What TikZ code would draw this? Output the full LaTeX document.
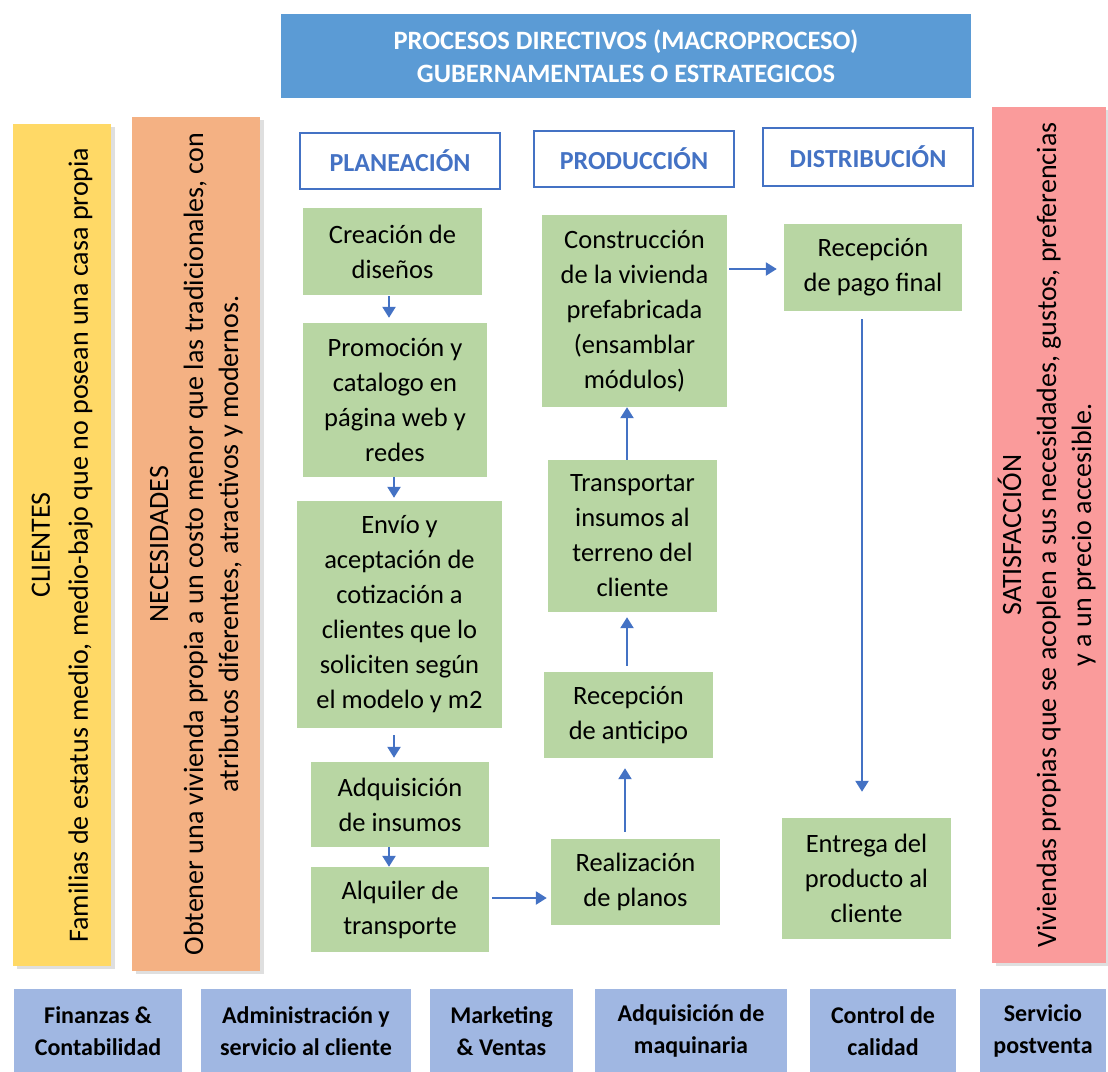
\documentclass[tikz,border=0pt]{standalone}
\usepackage{fontspec}
\setmainfont{Carlito}
\usepackage{graphicx}
\usetikzlibrary{arrows.meta,shadows}
\definecolor{banner}{HTML}{5B9BD5}
\definecolor{azul}{HTML}{4472C4}
\definecolor{verde}{RGB}{184,214,163}
\definecolor{amarillo}{HTML}{FFD966}
\definecolor{naranja}{HTML}{F4B183}
\definecolor{rosa}{RGB}{250,155,155}
\definecolor{lila}{RGB}{160,183,226}
\begin{document}
\begin{tikzpicture}[x=1pt,y=-1pt,
 caja/.style={fill=verde,align=center,inner sep=0pt,font=\fontsize{26.5}{35}\selectfont},
 titulo/.style={draw=azul,line width=1.5pt,text=azul,inner sep=0pt,font=\bfseries\fontsize{26}{32}\selectfont},
 lado/.style={inner sep=0pt,drop shadow={shadow xshift=4pt,shadow yshift=-3pt,opacity=.25},font=\fontsize{28}{35}\selectfont},
 apoyo/.style={fill=lila,align=center,inner sep=0pt,font=\bfseries\fontsize{24}{32}\selectfont},
 flecha/.style={azul,line width=2.4pt,-{Triangle[length=11pt,width=13pt]}}]
 \useasboundingbox (0,0) rectangle (1108,1071);
 % encabezado
 \node[fill=banner,text=white,align=center,inner sep=0pt,minimum width=690pt,minimum height=84pt,font=\bfseries\fontsize{26.5}{33}\selectfont] (macro) at (626,56) {PROCESOS DIRECTIVOS (MACROPROCESO)\\GUBERNAMENTALES O ESTRATEGICOS};
 \node[titulo,minimum width=200pt,minimum height=56pt] (plan) at (400,161) {PLANEACIÓN};
 \node[titulo,minimum width=200pt,minimum height=56pt] (prod) at (634,159) {PRODUCCIÓN};
 \node[titulo,minimum width=210pt,minimum height=58pt] (dist) at (868,157) {DISTRIBUCIÓN};
 % columnas laterales
 \node[lado,fill=amarillo,minimum width=98pt,minimum height=842pt] (cli) at (62,545) {\rotatebox{90}{\begin{tabular}{@{}c@{}}CLIENTES\\[3pt]Familias de estatus medio, medio-bajo que no posean una casa propia\end{tabular}}};
 \node[lado,fill=naranja,minimum width=128pt,minimum height=854pt] (nec) at (196,544) {\rotatebox{90}{\begin{tabular}{@{}c@{}}NECESIDADES\\Obtener una vivienda propia a un costo menor que las tradicionales, con\\atributos diferentes, atractivos y modernos.\end{tabular}}};
 \node[lado,fill=rosa,minimum width=114pt,minimum height=856pt] (sat) at (1049,535) {\rotatebox{90}{\begin{tabular}{@{}c@{}}SATISFACCIÓN\\Viviendas propias que se acoplen a sus necesidades, gustos, preferencias\\y a un precio accesible.\end{tabular}}};
 % planeacion
 \node[caja,minimum width=179pt,minimum height=87pt] (cre) at (392.5,251.5) {Creación de\\diseños};
 \node[caja,minimum width=184pt,minimum height=154pt] (pro) at (395,400) {Promoción y\\catalogo en\\página web y\\redes};
 \node[caja,minimum width=205pt,minimum height=227pt] (env) at (399.5,614.5) {Envío y\\aceptación de\\cotización a\\clientes que lo\\soliciten según\\el modelo y m2};
 \node[caja,minimum width=178pt,minimum height=85pt] (adq) at (400,804.5) {Adquisición\\de insumos};
 \node[caja,minimum width=178pt,minimum height=85pt] (alq) at (400,909.5) {Alquiler de\\transporte};
 % produccion
 \node[caja,minimum width=169pt,minimum height=86pt] (rea) at (635.5,882) {Realización\\de planos};
 \node[caja,minimum width=169pt,minimum height=86pt] (ant) at (628.5,715) {Recepción\\de anticipo};
 \node[caja,minimum width=169pt,minimum height=152pt] (tra) at (632.5,536) {Transportar\\insumos al\\terreno del\\cliente};
 \node[caja,minimum width=185pt,minimum height=192pt] (con) at (634.5,311) {Construcción\\de la vivienda\\prefabricada\\(ensamblar\\módulos)};
 % distribucion
 \node[caja,minimum width=178pt,minimum height=87pt] (pag) at (873,267.5) {Recepción\\de pago final};
 \node[caja,minimum width=169pt,minimum height=121pt] (ent) at (866.5,878.5) {Entrega del\\producto al\\cliente};
 % flechas
 \draw[flecha,shorten <=1pt,shorten >=5pt] ([xshift=-3.5pt]cre.south) -- ([xshift=-6pt]pro.north);
 \draw[flecha,shorten >=3pt] ([xshift=-1pt]pro.south) -- ([xshift=-5.5pt]env.north);
 \draw[flecha,shorten <=7pt,shorten >=4pt] ([xshift=-5.5pt]env.south) -- ([xshift=-6pt]adq.north);
 \draw[flecha] ([xshift=-11pt]adq.south) -- ([xshift=-11pt]alq.north);
 \draw[flecha,shorten <=3pt,shorten >=4pt] ([yshift=11.5pt]alq.east) -- ([yshift=-16pt]rea.west);
 \draw[flecha,shorten <=7pt,shorten >=10pt] ([xshift=-10.5pt]rea.north) -- ([xshift=-3.5pt]ant.south);
 \draw[flecha,shorten <=6pt,shorten >=5pt] ([xshift=-1.5pt]ant.north) -- ([xshift=-5.5pt]tra.south);
 \draw[flecha] ([xshift=-5.5pt]tra.north) -- ([xshift=-7.5pt]con.south);
 \draw[flecha,shorten <=2pt,shorten >=7pt] ([yshift=42pt]con.east) -- ([yshift=-1.5pt]pag.west);
 \draw[flecha,shorten <=8pt,shorten >=26pt] ([xshift=-11pt]pag.south) -- ([xshift=-4.5pt]ent.north);
 % procesos de apoyo
 \node[apoyo,minimum width=168pt,minimum height=84pt] (fin) at (98,1031) {Finanzas \&\\Contabilidad};
 \node[apoyo,minimum width=210pt,minimum height=84pt] (adm) at (306,1031) {Administración y\\servicio al cliente};
 \node[apoyo,minimum width=143pt,minimum height=84pt] (mkt) at (501.5,1031) {Marketing\\\& Ventas};
 \node[apoyo,minimum width=192pt,minimum height=84pt] (maq) at (691,1031) {Adquisición de\\maquinaria};
 \node[apoyo,minimum width=146pt,minimum height=84pt] (cal) at (883,1031) {Control de\\calidad};
 \node[apoyo,minimum width=126pt,minimum height=84pt] (ser) at (1043,1031) {Servicio\\postventa};
\end{tikzpicture}
\end{document}
